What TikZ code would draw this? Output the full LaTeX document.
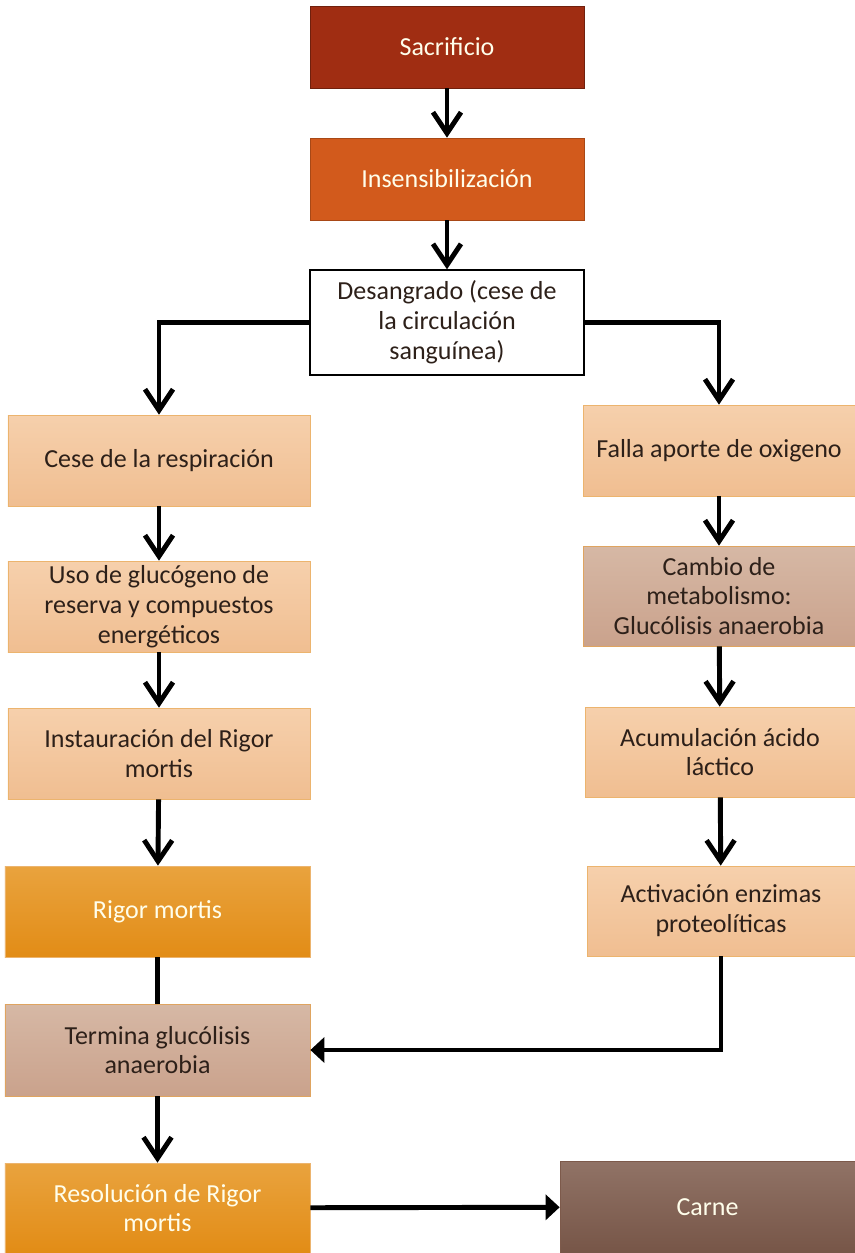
\documentclass[tikz,border=0pt]{standalone}
\usepackage{fontspec}
\setmainfont{Carlito}
\usepackage{tikz}
\usetikzlibrary{arrows,arrows.meta}
\definecolor{sacred}{RGB}{160, 45, 18}
\definecolor{insorange}{RGB}{210, 90, 28}
\definecolor{peachtop}{RGB}{246, 208, 172}
\definecolor{peachbot}{RGB}{240, 190, 145}
\definecolor{peachline}{RGB}{236, 180, 110}
\definecolor{ambertop}{RGB}{233, 163, 62}
\definecolor{amberbot}{RGB}{226, 140, 22}
\definecolor{tantop}{RGB}{214, 184, 165}
\definecolor{tanbot}{RGB}{202, 162, 140}
\definecolor{meatbrown}{RGB}{125, 90, 75}
\definecolor{inkdark}{RGB}{45, 32, 25}

\begin{document}
\begin{tikzpicture}[
    box/.style    = {draw, rectangle, align=center, inner sep=2pt,
                     font=\fontsize{14.8}{17}\selectfont},
    darkbox/.style = {box, fill=sacred, draw=sacred!70!black, text=white!92!yellow},
    insbox/.style  = {box, fill=insorange, draw=insorange!80!black, text=white!92!yellow},
    plainbox/.style= {box, fill=white, draw=black, line width=0.8pt, text=inkdark},
    peachbox/.style= {box, top color=peachtop, bottom color=peachbot, draw=peachline, text=inkdark},
    amberbox/.style= {box, top color=ambertop, bottom color=amberbot, draw=peachline, text=white!92!yellow},
    tanbox/.style  = {box, top color=tantop, bottom color=tanbot, draw=peachline!70!brown, text=inkdark},
    meatbox/.style = {box, top color=meatbrown!85!white, bottom color=meatbrown!95!black, draw=meatbrown, text=white!92!yellow},
    flow/.style    = {line width=2.8pt, -{Straight Barb[length=4.2mm, width=5.6mm]}},
    flowside/.style= {line width=2.8pt, -{Triangle[length=2.8mm, width=5.0mm]}},
    plainline/.style = {line width=2.8pt}
  ]
    % Frame to fix the margins
    \useasboundingbox (0.00, 0.00) rectangle (17.10,-25.06);

    % Top chain
    \node[darkbox,  minimum width=5.48cm, minimum height=1.64cm] (sac)  at ( 8.94, -0.94) {Sacrificio};
    \node[insbox,   minimum width=5.48cm, minimum height=1.64cm] (ins)  at ( 8.94, -3.58) {Insensibilización};
    \node[plainbox, minimum width=5.48cm, minimum height=2.10cm] (des)  at ( 8.94, -6.45)
         {Desangrado (cese de\\la circulación\\sanguínea)};

    % Left branch
    \node[peachbox, minimum width=6.04cm, minimum height=1.82cm] (cese)  at ( 3.18, -9.21) {Cese de la respiración};
    \node[peachbox, minimum width=6.04cm, minimum height=1.82cm] (uso)   at ( 3.18,-12.13)
         {Uso de glucógeno de\\reserva y compuestos\\energéticos};
    \node[peachbox, minimum width=6.04cm, minimum height=1.82cm] (inst)  at ( 3.18,-15.07)
         {Instauración del Rigor\\mortis};
    \node[amberbox, minimum width=6.10cm, minimum height=1.82cm] (rigor) at ( 3.15,-18.23) {Rigor mortis};
    \node[tanbox,   minimum width=6.10cm, minimum height=1.84cm] (term)  at ( 3.15,-21.00)
         {Termina glucólisis\\anaerobia};
    \node[amberbox, minimum width=6.10cm, minimum height=1.80cm] (resol) at ( 3.15,-24.16)
         {Resolución de Rigor\\mortis};

    % Right branch
    \node[peachbox, minimum width=5.44cm, minimum height=1.82cm] (falla)  at (14.38, -9.01) {Falla aporte de oxigeno};
    \node[tanbox,   minimum width=5.44cm, minimum height=2.00cm] (cambio) at (14.38,-11.92)
         {Cambio de\\metabolismo:\\Glucólisis anaerobia};
    \node[peachbox, minimum width=5.40cm, minimum height=1.80cm] (acum)   at (14.40,-15.04)
         {Acumulación ácido\\láctico};
    \node[peachbox, minimum width=5.36cm, minimum height=1.80cm] (activ)  at (14.42,-18.22)
         {Activación enzimas\\proteolíticas};
    \node[meatbox,  minimum width=5.90cm, minimum height=1.84cm] (carne)  at (14.15,-24.14) {Carne};

    % Connectors
    \draw[flow]      (sac)        -- (ins);
    \draw[flow]      (ins)        -- (des);
    \draw[flow]      (des.west)   -| (cese.north);
    \draw[flow]      (des.east)   -| (falla.north);
    \draw[flow]      (cese)       -- (uso);
    \draw[flow]      (uso)        -- (inst);
    \draw[flow]      (inst)       -- (rigor);
    \draw[plainline] (rigor)      -- (term);
    \draw[flow]      (term)       -- (resol);
    \draw[flow]      (falla)      -- (cambio);
    \draw[flow]      (cambio)     -- (acum);
    \draw[flow]      (acum)       -- (activ);
    \draw[flowside]  (activ.south) |- (term.east);
    \draw[flowside]  (resol)      -- (carne);
\end{tikzpicture}
\end{document}
